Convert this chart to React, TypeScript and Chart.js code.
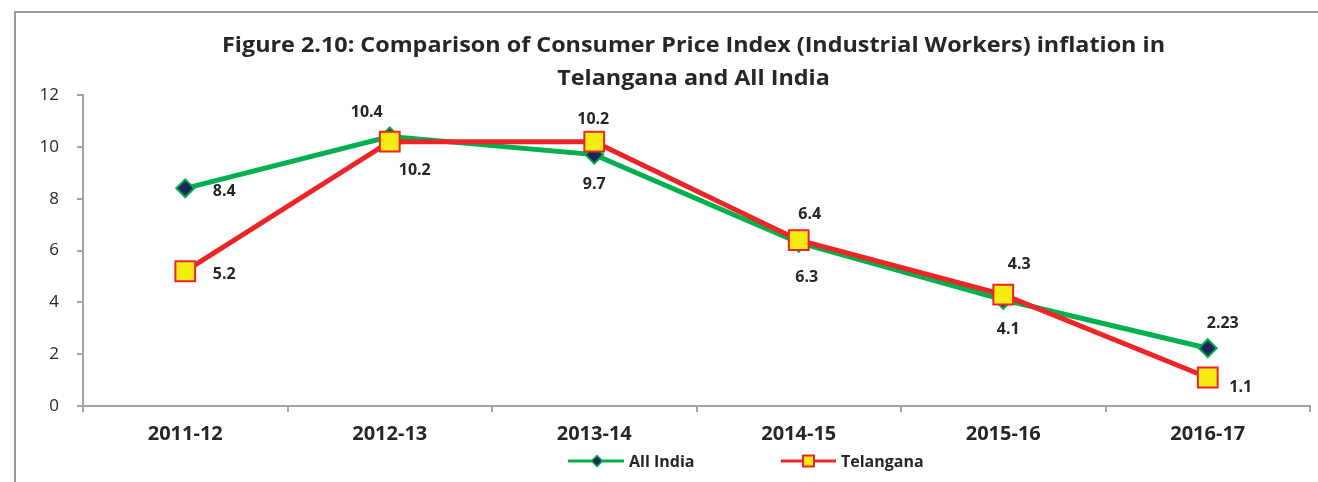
import React, { useEffect, useRef } from "react";
import { Chart, registerables } from "chart.js";

Chart.register(...registerables);

// ---- Data ----
const categories = ["2011-12", "2012-13", "2013-14", "2014-15", "2015-16", "2016-17"];
const allIndiaValues = [8.4, 10.4, 9.7, 6.3, 4.1, 2.23];
const telanganaValues = [5.2, 10.2, 10.2, 6.4, 4.3, 1.1];
const seriesNames = ["All India", "Telangana"];
const titleLines = [
  "Figure 2.10: Comparison of Consumer Price Index (Industrial Workers) inflation in",
  "Telangana and All India",
];
const yMin = 0;
const yMax = 12;
const yStep = 2;

// ---- Label placement (offsets from each point, px) ----
const allIndiaLabelDx = [39, -23, 0, 8, 5, 15];
const allIndiaLabelDy = [2, -25, 29, 34, 29, -26];
const telanganaLabelDx = [39, 25, -1, 11, 16, 33];
const telanganaLabelDy = [2, 28, -23, -27, -31, 9];

// ---- Styles ----
const FONT = "'Open Sans', sans-serif";
const TEXT = "#262626";
const AXIS = "#a3a3a3";
const GREEN = "#00b04f";
const NAVY = "#1c2759";
const RED = "#ee2427";
const YELLOW = "#f7eb14";
const W = 1318;
const H = 482;

function drawDiamond(ctx: CanvasRenderingContext2D, x: number, y: number, r: number) {
  ctx.beginPath();
  ctx.moveTo(x - r, y);
  ctx.lineTo(x, y - r);
  ctx.lineTo(x + r, y);
  ctx.lineTo(x, y + r);
  ctx.closePath();
  ctx.fillStyle = NAVY;
  ctx.fill();
  ctx.strokeStyle = GREEN;
  ctx.lineWidth = 1.5;
  ctx.stroke();
}

function drawSquare(ctx: CanvasRenderingContext2D, x: number, y: number, s: number) {
  ctx.beginPath();
  ctx.rect(x - s / 2, y - s / 2, s, s);
  ctx.fillStyle = YELLOW;
  ctx.fill();
  ctx.strokeStyle = RED;
  ctx.lineWidth = 2;
  ctx.stroke();
}

const overlayPlugin = {
  id: "overlay",
  afterDraw(chart: any) {
    const ctx: CanvasRenderingContext2D = chart.ctx;
    ctx.save();

    // frame of the page figure
    ctx.strokeStyle = "#9a9a9a";
    ctx.lineWidth = 2;
    ctx.beginPath();
    ctx.moveTo(15, H);
    ctx.lineTo(15, 12);
    ctx.lineTo(W, 12);
    ctx.stroke();

    // title (two lines)
    ctx.fillStyle = TEXT;
    ctx.font = `bold 22px ${FONT}`;
    ctx.textBaseline = "alphabetic";
    ctx.textAlign = "center";
    const w1 = ctx.measureText(titleLines[0]).width;
    const sx = 943 / w1;
    const baselines = [52, 85];
    titleLines.forEach((t, i) => {
      ctx.save();
      ctx.translate(693.5, baselines[i]);
      ctx.scale(sx, 1);
      ctx.fillText(t, 0, 0);
      ctx.restore();
    });

    // data labels
    ctx.font = `bold 16px ${FONT}`;
    ctx.fillStyle = TEXT;
    ctx.textAlign = "center";
    const sets = [
      { values: allIndiaValues, dx: allIndiaLabelDx, dy: allIndiaLabelDy },
      { values: telanganaValues, dx: telanganaLabelDx, dy: telanganaLabelDy },
    ];
    sets.forEach((s, di) => {
      const meta = chart.getDatasetMeta(di);
      meta.data.forEach((pt: any, j: number) => {
        ctx.fillText(String(s.values[j]), pt.x + s.dx[j], pt.y + s.dy[j] + 5.7);
      });
    });

    // legend
    const ly = 461;
    ctx.lineCap = "butt";
    ctx.strokeStyle = GREEN;
    ctx.lineWidth = 3;
    ctx.beginPath();
    ctx.moveTo(568, ly);
    ctx.lineTo(624, ly);
    ctx.stroke();
    drawDiamond(ctx, 597, ly, 5.5);
    ctx.strokeStyle = RED;
    ctx.lineWidth = 3;
    ctx.beginPath();
    ctx.moveTo(781, ly);
    ctx.lineTo(836, ly);
    ctx.stroke();
    drawSquare(ctx, 808.5, ly, 11);
    ctx.fillStyle = TEXT;
    ctx.font = `bold 16px ${FONT}`;
    ctx.textAlign = "left";
    ctx.fillText(seriesNames[0], 629, 466.5);
    ctx.fillText(seriesNames[1], 841, 466.5);

    ctx.restore();
  },
};

export default function App() {
  const canvasRef = useRef<HTMLCanvasElement | null>(null);

  useEffect(() => {
    if (!canvasRef.current) return;
    const chart = new Chart(canvasRef.current, {
      type: "line",
      data: {
        labels: categories,
        datasets: [
          {
            label: seriesNames[0],
            data: allIndiaValues,
            borderColor: GREEN,
            borderWidth: 5,
            backgroundColor: NAVY,
            pointStyle: "rectRot",
            pointRadius: 9,
            pointBackgroundColor: NAVY,
            pointBorderColor: GREEN,
            pointBorderWidth: 2,
            tension: 0,
            order: 2,
          },
          {
            label: seriesNames[1],
            data: telanganaValues,
            borderColor: RED,
            borderWidth: 5,
            backgroundColor: YELLOW,
            pointStyle: "rect",
            pointRadius: 14,
            pointBackgroundColor: YELLOW,
            pointBorderColor: RED,
            pointBorderWidth: 2,
            tension: 0,
            order: 1,
          },
        ],
      },
      options: {
        responsive: false,
        animation: false,
        devicePixelRatio: 1,
        layout: { autoPadding: false, padding: { left: 0, right: 8, top: 95, bottom: 0 } },
        plugins: {
          legend: { display: false },
          title: { display: false },
          tooltip: { enabled: false },
        },
        events: [],
        scales: {
          x: {
            type: "category",
            offset: true,
            grid: {
              offset: true,
              drawOnChartArea: false,
              drawTicks: true,
              tickLength: 6,
              color: AXIS,
              lineWidth: 2,
            },
            border: { display: true, color: AXIS, width: 2 },
            ticks: {
              color: TEXT,
              font: { family: FONT, size: 20, weight: "bold" },
              padding: 10,
              maxRotation: 0,
              autoSkip: false,
            },
            afterFit: (s: any) => {
              s.height = 76;
            },
          },
          y: {
            min: yMin,
            max: yMax,
            grid: {
              drawOnChartArea: false,
              drawTicks: true,
              tickLength: 6,
              color: AXIS,
              lineWidth: 2,
            },
            border: { display: true, color: AXIS, width: 2 },
            ticks: {
              stepSize: yStep,
              color: TEXT,
              font: { family: FONT, size: 17 },
              padding: 18,
            },
            afterFit: (s: any) => {
              s.width = 83;
            },
          },
        },
      },
      plugins: [overlayPlugin],
    });
    return () => chart.destroy();
  }, []);

  return (
    <div style={{ position: "absolute", left: 0, top: 0, width: W, height: H, background: "#fff" }}>
      <canvas ref={canvasRef} width={W} height={H} style={{ display: "block" }} />
    </div>
  );
}
